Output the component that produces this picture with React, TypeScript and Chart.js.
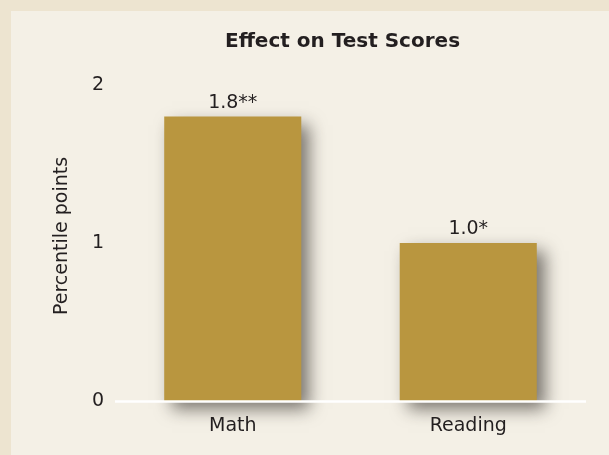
import React, { useEffect, useRef } from "react";
import { Chart, registerables } from "chart.js";

Chart.register(...registerables);

const categories = ["Math", "Reading"];
const values = [1.8, 1.0];
const valueLabels = ["1.8**", "1.0*"];
const yMin = 0;
const yMax = 2;
const yStep = 1;
const chartTitle = "Effect on Test Scores";
const yTitle = "Percentile points";

const FONT = "'DejaVu Sans', sans-serif";
const TEXT = "#231f20";
const BAR = "#b9963f";
const PANEL = "#f4f0e6";
const BORDER = "#ede4d0";

const shadowPlugin = {
  id: "barShadow",
  beforeDatasetsDraw(chart: any) {
    const ctx = chart.ctx;
    ctx.save();
    ctx.shadowColor = "rgba(40,35,30,0.6)";
    ctx.shadowBlur = 16;
    ctx.shadowOffsetX = 8;
    ctx.shadowOffsetY = 8;
  },
  afterDatasetsDraw(chart: any) {
    const ctx = chart.ctx;
    ctx.restore();
    const ca = chart.chartArea;
    const y0 = chart.scales.y.getPixelForValue(0);
    ctx.save();
    ctx.strokeStyle = "#ffffff";
    ctx.lineWidth = 2.5;
    ctx.beginPath();
    ctx.moveTo(ca.left, y0 + 0.5);
    ctx.lineTo(ca.right, y0 + 0.5);
    ctx.stroke();
    // value labels
    const meta = chart.getDatasetMeta(0);
    ctx.fillStyle = TEXT;
    ctx.font = `19px ${FONT}`;
    ctx.textAlign = "center";
    ctx.textBaseline = "alphabetic";
    meta.data.forEach((bar: any, i: number) => {
      ctx.fillText(valueLabels[i], bar.x, bar.y - 9);
    });
    // title
    ctx.font = `bold 20px ${FONT}`;
    ctx.fillText(chartTitle, (ca.left + ca.right) / 2 - 8, 36);
    // y axis title
    ctx.font = `19px ${FONT}`;
    ctx.textBaseline = "middle";
    ctx.translate(51, (ca.top + ca.bottom) / 2 - 7);
    ctx.rotate(-Math.PI / 2);
    ctx.fillText(yTitle, 0, 0);
    ctx.restore();
  },
};

export default function App() {
  const ref = useRef<HTMLCanvasElement>(null);
  useEffect(() => {
    document.body.style.margin = "0";
    const chart = new Chart(ref.current!, {
      type: "bar",
      data: {
        labels: categories,
        datasets: [
          {
            data: values,
            backgroundColor: BAR,
            borderWidth: 0,
            barPercentage: 0.582,
            categoryPercentage: 1,
            clip: false as any,
          },
        ],
      },
      options: {
        animation: false,
        responsive: false,
        devicePixelRatio: 1,
        layout: { padding: { top: 74, right: 23, left: 0, bottom: 0 } },
        plugins: {
          legend: { display: false },
          tooltip: { enabled: false },
          title: { display: false },
        },
        scales: {
          x: {
            grid: { display: false, drawTicks: false },
            border: { display: false },
            ticks: { color: TEXT, font: { family: FONT, size: 19 }, padding: 14 },
            afterFit: (s: any) => {
              s.height = 54;
            },
          },
          y: {
            min: yMin,
            max: yMax,
            grid: { display: false, drawTicks: false },
            border: { display: false },
            ticks: { stepSize: yStep, color: TEXT, font: { family: FONT, size: 19 }, padding: 11 },
            afterFit: (s: any) => {
              s.width = 104;
            },
          },
        },
      },
      plugins: [shadowPlugin],
    });
    return () => chart.destroy();
  }, []);
  return (
    <div style={{ width: 609, height: 455, background: BORDER, position: "relative" }}>
      <div style={{ position: "absolute", left: 11, top: 11, width: 598, height: 444, background: PANEL }}>
        <canvas ref={ref} width={598} height={444} style={{ display: "block" }} />
      </div>
    </div>
  );
}
